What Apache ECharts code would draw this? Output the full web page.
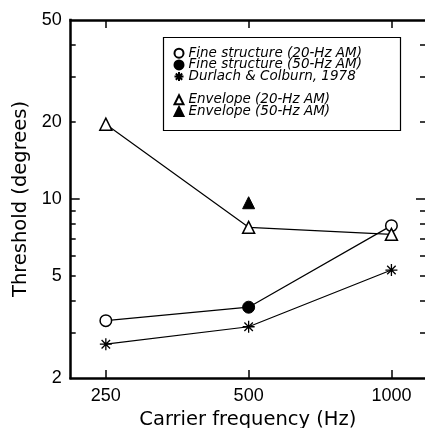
<!DOCTYPE html>
<html><head><meta charset="utf-8">
<script src="https://cdn.jsdelivr.net/npm/echarts@6/dist/echarts.min.js"></script>
<style>html,body{margin:0;padding:0;background:#fff}#c{width:425px;height:428px}</style>
</head><body><div id="c"></div>
<script>
// ---- data ----
const fine20Freq = [250, 1000];
const fine20Thr  = [3.35, 7.87];
const fine50Freq = [500];
const fine50Thr  = [3.78];
const durFreq    = [250, 500, 1000];
const durThr     = [2.71, 3.17, 5.28];
const env20Freq  = [250, 500, 1000];
const env20Thr   = [19.6, 7.75, 7.28];
const env50Freq  = [500];
const env50Thr   = [9.67];
const xTickFreqs = [250, 500, 1000];
const yTickLabels = [2, 5, 10, 20, 50];
const yMajorTicks = [10];
const yMinorTicks = [3, 4, 5, 6, 7, 8, 9, 20, 30, 40];
const seriesNames = ['Fine structure (20-Hz AM)', 'Fine structure (50-Hz AM)', 'Durlach & Colburn, 1978', 'Envelope (20-Hz AM)', 'Envelope (50-Hz AM)'];
const xRange = [210.8, 1177];
const yRange = [2, 50];
const xTitle = 'Carrier frequency (Hz)';
const yTitle = 'Threshold (degrees)';

// ---- helpers ----
const pts = (fs, vs) => fs.map((f, i) => [Math.log2(f), Math.log10(vs[i])]);
const fineLinePts = pts(fine20Freq.concat(fine50Freq), fine20Thr.concat(fine50Thr)).sort((a, b) => a[0] - b[0]);
const lx = a => a.map(v => Math.log2(v));
const ly = a => a.map(v => Math.log10(v));
const ASTER = 'path://M6 0L6 12M0 6L12 6M1.76 1.76L10.24 10.24M1.76 10.24L10.24 1.76';
const BLACK = '#000';
const axisLineStyle = {color: BLACK, width: 2.5, cap: 'square'};

const xBase = pos => ({
  type: 'value', position: pos, min: Math.log2(xRange[0]), max: Math.log2(xRange[1]),
  splitLine: {show: false},
  axisLine: {show: true, lineStyle: axisLineStyle},
  axisTick: {show: true, inside: true, length: 8, customValues: lx(xTickFreqs), lineStyle: {color: BLACK, width: 1.5}},
  axisLabel: {show: pos === 'bottom', customValues: lx(xTickFreqs), margin: 9,
    formatter: v => String(Math.round(Math.pow(2, v))),
    fontFamily: 'Liberation Sans', fontSize: 18, color: BLACK}
});
const yBase = (pos, ticks, len, showLine, showLabels) => ({
  type: 'value', position: pos, min: Math.log10(yRange[0]), max: Math.log10(yRange[1]),
  splitLine: {show: false},
  axisLine: {show: showLine, lineStyle: axisLineStyle},
  axisTick: {show: true, inside: true, length: len, customValues: ly(ticks), lineStyle: {color: BLACK, width: 1.5}},
  axisLabel: {show: showLabels, customValues: ly(yTickLabels), margin: 9,
    formatter: v => String(Math.round(Math.pow(10, v))),
    fontFamily: 'Liberation Sans', fontSize: 18, color: BLACK}
});

const titleStyle = {fontFamily: 'DejaVu Sans', fontSize: 19.5, color: BLACK};
const xAxes = [xBase('bottom'), xBase('top')];
xAxes[0].name = xTitle; xAxes[0].nameLocation = 'middle'; xAxes[0].nameGap = 30;
xAxes[0].nameTextStyle = titleStyle;
const yAxes = [
  yBase('left', yMajorTicks, 9, true, true),
  yBase('left', yMinorTicks, 5, false, false),
  yBase('right', yMajorTicks, 9, false, false),
  yBase('right', yMinorTicks, 5, false, false)
];
yAxes[0].name = yTitle; yAxes[0].nameLocation = 'middle'; yAxes[0].nameGap = 39;
yAxes[0].nameTextStyle = titleStyle;

const lineS = (name, data) => ({type: 'line', name, data, symbol: 'none', silent: true,
  lineStyle: {color: BLACK, width: 1.2}, z: 2});
const markS = (name, data, symbol, fill, size, bw) => ({type: 'scatter', name, data, symbol, symbolSize: size,
  itemStyle: {color: fill, borderColor: BLACK, borderWidth: bw, opacity: 1}, z: 3});

const legendText = {fontFamily: 'DejaVu Sans', fontStyle: 'italic', fontSize: 13.5, color: BLACK};
const legendIcons = ['circle', 'circle', ASTER, 'triangle', 'triangle'];
const legendBase = (idx, top) => ({
  orient: 'vertical', left: 173.5, top, padding: 0, itemGap: -2.3, itemWidth: 9, itemHeight: 9,
  selectedMode: false, textStyle: legendText,
  data: idx.map(i => ({name: seriesNames[i], icon: legendIcons[i]}))
});

const chart = echarts.init(document.getElementById('c'), null, {renderer: 'canvas'});
chart.setOption({
  animation: false,
  backgroundColor: '#fff',
  grid: {left: 70.7, right: 0, top: 20, bottom: 50, outerBoundsMode: 'none', containLabel: false},
  xAxis: xAxes,
  yAxis: yAxes,
  legend: [legendBase([0, 1, 2], 46.2), legendBase([3, 4], 92.8)],
  graphic: [{type: 'rect', shape: {x: 163.5, y: 37.5, width: 237, height: 93},
    style: {fill: 'none', stroke: BLACK, lineWidth: 1.2}, z: 10}],
  series: [
    lineS('fine-line', fineLinePts),
    lineS('durlach-line', pts(durFreq, durThr)),
    lineS('env-line', pts(env20Freq, env20Thr)),
    markS(seriesNames[0], pts(fine20Freq, fine20Thr), 'circle', '#fff', 11.5, 1.5),
    markS(seriesNames[1], pts(fine50Freq, fine50Thr), 'circle', BLACK, 12, 1),
    markS(seriesNames[2], pts(durFreq, durThr), ASTER, BLACK, 12, 1.3),
    markS(seriesNames[3], pts(env20Freq, env20Thr), 'triangle', '#fff', 12, 1.5),
    markS(seriesNames[4], pts(env50Freq, env50Thr), 'triangle', BLACK, 12, 1)
  ]
});
</script></body></html>
